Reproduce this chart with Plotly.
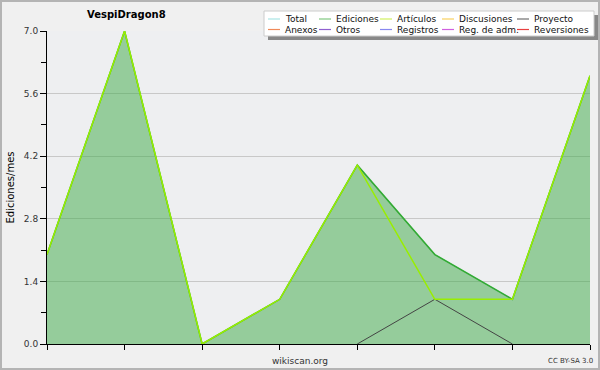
import plotly.graph_objects as go

# ---- data ----
months = list(range(8))
total = [2, 7, 0, 1, 4, 2, 1, 6]
ediciones = [2, 7, 0, 1, 4, 2, 1, 6]
articulos = [2, 7, 0, 1, 4, 1, 1, 6]
proyecto = [None, None, None, None, 0, 1, 0, None]

y_tickvals = [0.0, 1.4, 2.8, 4.2, 5.6, 7.0]
y_ticktext = ["0.0", "1.4", "2.8", "4.2", "5.6", "7.0"]

legend_names = [["Total", "Anexos"], ["Ediciones", "Otros"], ["Artículos", "Registros"],
                ["Discusiones", "Reg. de adm."], ["Proyecto", "Reversiones"]]
legend_colors = [["#a8e4e4", "#f08a5a"], ["#80c880", "#9060d0"], ["#d0f060", "#8888f0"],
                 ["#f8d060", "#d060e0"], ["#707070", "#e84040"]]

W, H = 600, 370
L, R, T, B = 47, 10, 31, 26
PW, PH = W - L - R, H - T - B


def px(x):
    return (x - L) / PW


def py(y):
    return (H - B - y) / PH


fig = go.Figure()
fig.add_trace(go.Scatter(x=months, y=total, mode="lines", line=dict(color="#88dddd", width=1),
                         showlegend=False, hoverinfo="skip"))
fig.add_trace(go.Scatter(x=months, y=ediciones, mode="lines", fill="tozeroy",
                         fillcolor="rgba(60,170,70,0.5)", line=dict(color="#33aa33", width=1.5),
                         showlegend=False))
fig.add_trace(go.Scatter(x=months, y=proyecto, mode="lines", line=dict(color="#444444", width=1),
                         showlegend=False))
fig.add_trace(go.Scatter(x=months, y=articulos, mode="lines", line=dict(color="#99ee00", width=1.5),
                         showlegend=False))

shapes = []
annotations = []

# figure border
shapes.append(dict(type="rect", xref="paper", yref="paper", x0=px(1), x1=px(W - 1), y0=py(H - 1), y1=py(1),
                   line=dict(color="#b4b4b4", width=2), fillcolor="rgba(0,0,0,0)", layer="above"))

# legend box with shadow
shapes.append(dict(type="rect", xref="paper", yref="paper", x0=px(268), x1=px(598), y0=py(40), y1=py(15),
                   line=dict(width=0), fillcolor="#888888", layer="above"))
shapes.append(dict(type="rect", xref="paper", yref="paper", x0=px(264), x1=px(594), y0=py(36), y1=py(11),
                   line=dict(color="#cccccc", width=1), fillcolor="#ffffff", layer="above"))

col_line_x = [268, 319, 380, 442, 517]
row_y = [19, 29.5]
for c, (names, cols) in enumerate(zip(legend_names, legend_colors)):
    for r in range(2):
        x0 = col_line_x[c]
        shapes.append(dict(type="line", xref="paper", yref="paper", x0=px(x0), x1=px(x0 + 12),
                           y0=py(row_y[r]), y1=py(row_y[r]), line=dict(color=cols[r], width=1.2),
                           layer="above"))
        annotations.append(dict(text=names[r], xref="paper", yref="paper", x=px(x0 + 15), y=py(row_y[r]),
                                xanchor="left", yanchor="middle", showarrow=False,
                                font=dict(family="DejaVu Sans", size=9, color="#111111")))

# title
annotations.append(dict(text="<b>VespiDragon8</b>", xref="paper", yref="paper", x=px(126), y=py(14),
                        xanchor="center", yanchor="middle", showarrow=False,
                        font=dict(family="DejaVu Sans", size=10, color="#000000")))
# y title
annotations.append(dict(text="Ediciones/mes", xref="paper", yref="paper", x=px(10), y=0.5, textangle=-90,
                        xanchor="center", yanchor="middle", showarrow=False,
                        font=dict(family="DejaVu Sans", size=10, color="#000000")))
annotations.append(dict(text="wikiscan.org", xref="paper", yref="paper", x=px(300), y=py(361),
                        xanchor="center", yanchor="middle", showarrow=False,
                        font=dict(family="DejaVu Sans", size=9, color="#333333")))
annotations.append(dict(text="CC BY-SA 3.0", xref="paper", yref="paper", x=px(570), y=py(361),
                        xanchor="center", yanchor="middle", showarrow=False,
                        font=dict(family="DejaVu Sans", size=7, color="#333333")))

fig.update_layout(
    width=W, height=H,
    margin=dict(l=L, r=R, t=T, b=B, pad=0),
    paper_bgcolor="#f0f0f0",
    plot_bgcolor="#eeeff1",
    showlegend=False,
    shapes=shapes,
    annotations=annotations,
    xaxis=dict(range=[0, 7], tickvals=months, showticklabels=False, ticks="outside", ticklen=5,
               tickcolor="#000000", showgrid=False, showline=True, linecolor="#000000", linewidth=1,
               zeroline=False, fixedrange=True),
    yaxis=dict(range=[0, 7], tickvals=y_tickvals, ticktext=y_ticktext, ticks="outside", ticklen=6,
               tickcolor="#000000", showgrid=True, gridcolor="#c8c8c8", gridwidth=1,
               showline=True, linecolor="#000000", linewidth=1, zeroline=False,
               tickfont=dict(family="DejaVu Sans", size=9, color="#333333"),
               minor=dict(dtick=0.7, tick0=0, ticks="outside", ticklen=5, tickcolor="#000000", showgrid=False),
               fixedrange=True),
)

fig.write_html("out.html", config={"displayModeBar": False},
               post_script="document.body.style.margin='0';document.body.style.overflow='hidden';")
